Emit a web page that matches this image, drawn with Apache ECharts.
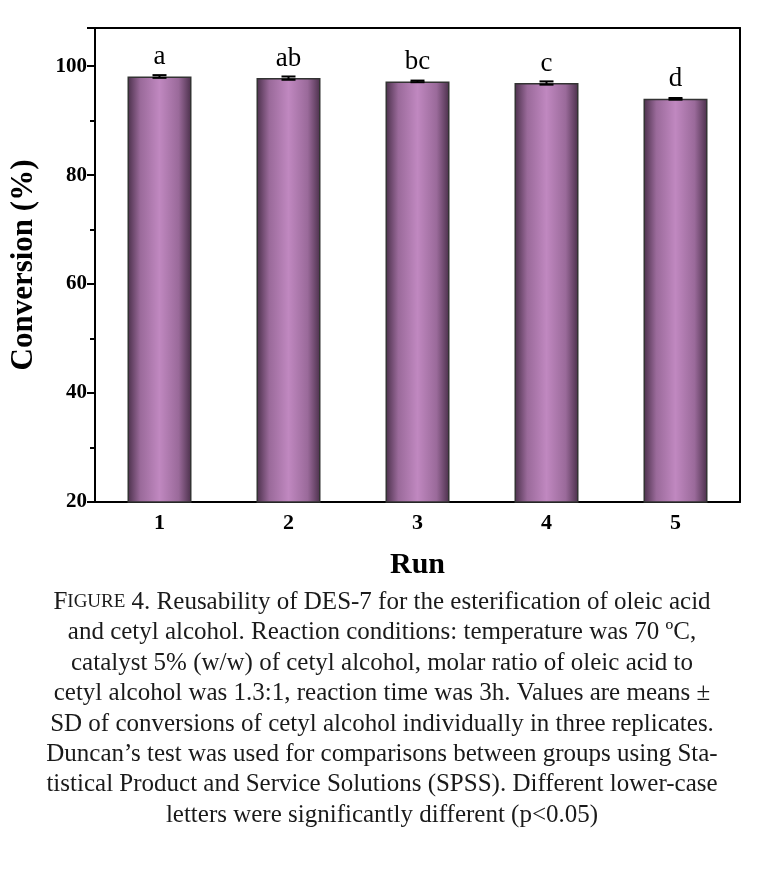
<!DOCTYPE html><html><head><meta charset="utf-8"><script src="https://cdn.jsdelivr.net/npm/echarts@6/dist/echarts.min.js"></script></head><body style="margin:0;background:#fff"><div id="c" style="width:764px;height:874px"></div><script>
const categories=['1','2','3','4','5'];
const values=[98.1,97.8,97.2,96.9,94.0];
const errors=[0.25,0.3,0.15,0.3,0.15];
const letters=['a','ab','bc','c','d'];
const yTicks=[20,40,60,80,100];
const caption=['{b|F}{s|IGURE} 4. Reusability of DES-7 for the esterification of oleic acid','and cetyl alcohol. Reaction conditions: temperature was 70 ºC,','catalyst 5% (w/w) of cetyl alcohol, molar ratio of oleic acid to','cetyl alcohol was 1.3:1, reaction time was 3h. Values are means ±','SD of conversions of cetyl alcohol individually in three replicates.','Duncan’s test was used for comparisons between groups using Sta-','tistical Product and Service Solutions (SPSS). Different lower-case','letters were significantly different (p<0.05)'];
const F='"Liberation Serif","Times New Roman",serif';
const ch=echarts.init(document.getElementById('c'));
const grad=new echarts.graphic.LinearGradient(0,0,1,0,[{offset:0,color:'#4a2f4a'},{offset:0.2,color:'#9a6a9a'},{offset:0.5,color:'#c088c0'},{offset:0.8,color:'#9a6a9a'},{offset:1,color:'#4a2f4a'}]);
ch.setOption({animation:false,
grid:{left:93,right:24,top:28,bottom:372},
xAxis:[{type:'category',data:categories,axisLine:{lineStyle:{color:'#000',width:2}},axisTick:{show:false},axisLabel:{color:'#000',fontFamily:F,fontWeight:'bold',fontSize:22,margin:10},name:'Run',nameLocation:'middle',nameGap:48,nameTextStyle:{color:'#000',fontFamily:F,fontWeight:'bold',fontSize:30}},
{type:'category',position:'top',data:categories,axisLine:{lineStyle:{color:'#000',width:2}},axisTick:{show:false},axisLabel:{show:false}}],
yAxis:[{type:'value',min:20,max:107,interval:20,minorTick:{show:true,splitNumber:2,length:5,lineStyle:{color:'#000',width:2}},axisLine:{show:true,lineStyle:{color:'#000',width:2}},axisTick:{show:true,length:8,lineStyle:{width:2}},splitLine:{show:false},axisLabel:{color:'#000',fontFamily:F,fontWeight:'bold',fontSize:21,formatter:v=>yTicks.includes(v)?v:''},name:'Conversion (%)',nameLocation:'middle',nameGap:56,nameTextStyle:{color:'#000',fontFamily:F,fontWeight:'bold',fontSize:31}},
{type:'value',position:'right',min:20,max:107,axisLine:{show:true,lineStyle:{color:'#000',width:2}},axisTick:{show:false},axisLabel:{show:false},splitLine:{show:false}}],
series:[{type:'bar',data:values,barWidth:64,itemStyle:{color:grad,borderColor:'#333',borderWidth:1.5},
label:{show:true,position:'top',distance:6,formatter:p=>letters[p.dataIndex],color:'#000',fontFamily:F,fontSize:27}},
{type:'custom',data:values.map((v,i)=>[i,v,errors[i]]),z:5,renderItem:(params,api)=>{const x=api.coord([api.value(0),0])[0];const hi=api.coord([0,api.value(1)+api.value(2)])[1];const lo=api.coord([0,api.value(1)-api.value(2)])[1];return{type:'group',children:[{type:'line',shape:{x1:x,y1:hi,x2:x,y2:lo},style:{stroke:'#000',lineWidth:2}},{type:'line',shape:{x1:x-7,y1:hi,x2:x+7,y2:hi},style:{stroke:'#000',lineWidth:2}},{type:'line',shape:{x1:x-7,y1:lo,x2:x+7,y2:lo},style:{stroke:'#000',lineWidth:2}}]}}}],
graphic:caption.map((t,i)=>({type:'text',left:'center',top:590+i*30.4,style:{text:t,font:'25px '+F,fill:'#1a1a1a',rich:{b:{fontFamily:F,fontSize:25,fill:'#1a1a1a'},s:{fontFamily:F,fontSize:19,fill:'#1a1a1a'}}}}))
});
</script></body></html>
